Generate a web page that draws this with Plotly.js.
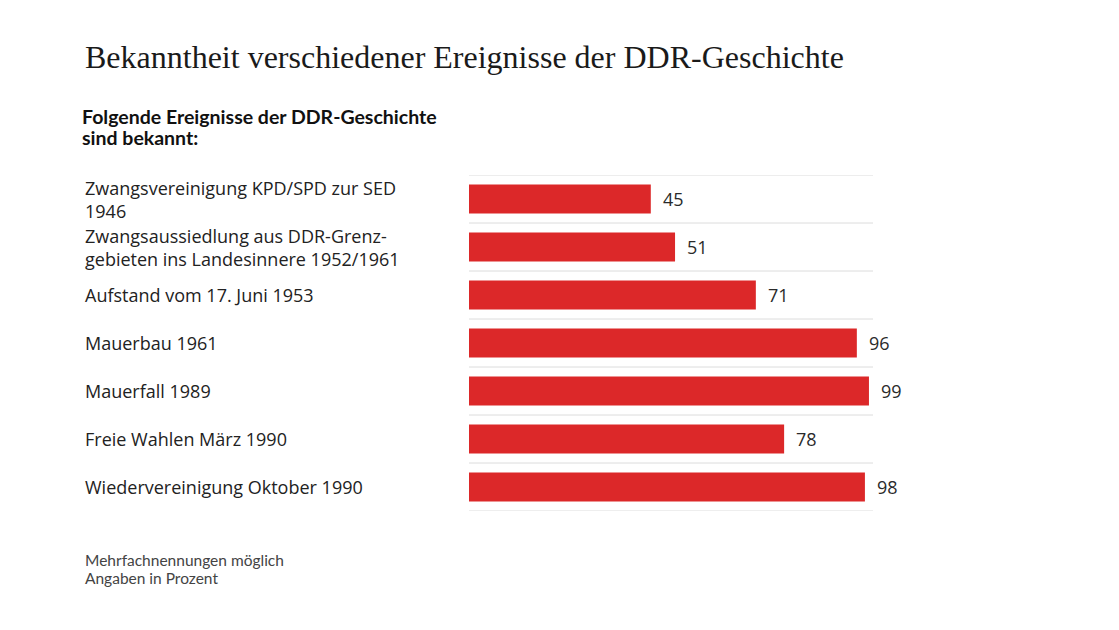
<!DOCTYPE html>
<html>
<head>
<meta charset="utf-8">
<script src="https://cdn.plot.ly/plotly-3.0.1.min.js"></script>
<style>
  html, body { margin: 0; padding: 0; background: #fff; }
  #plot { width: 1119px; height: 630px; }
</style>
</head>
<body>
<div id="plot"></div>
<script>
const events = [
    "Zwangsvereinigung KPD/SPD zur SED<br>1946",
    "Zwangsaussiedlung aus DDR-Grenz-<br>gebieten ins Landesinnere 1952/1961",
    "Aufstand vom 17. Juni 1953",
    "Mauerbau 1961",
    "Mauerfall 1989",
    "Freie Wahlen März 1990",
    "Wiedervereinigung Oktober 1990"
];
const known = [45, 51, 71, 96, 99, 78, 98];

const titleText = "Bekanntheit verschiedener Ereignisse der DDR-Geschichte";
const subtitleText = "Folgende Ereignisse der DDR-Geschichte<br>sind bekannt:";
const noteText = "Mehrfachnennungen möglich<br>Angaben in Prozent";

// plot box in pixels
const W = 1119, H = 630;
const L = 469, R = 873, T = 174.5, B = 511;
const px = x => (x - L) / (R - L);      // pixel -> paper x
const py = y => 1 - (y - T) / (B - T);  // pixel -> paper y

const bars = {
    type: "bar",
    orientation: "h",
    x: known,
    y: events,
    width: 0.6,
    marker: { color: "#dc2829" },
    hoverinfo: "x",
    showlegend: false
};

// separators between rows
const seps = [];
for (let i = 0; i <= events.length; i++) {
    seps.push({
        type: "line", xref: "x", yref: "y",
        x0: 0, x1: 100, y0: i - 0.5, y1: i - 0.5,
        line: { color: "#dcdcdc", width: 1 },
        layer: "below"
    });
}

const annotations = [];

// plotly's line height is a bit loose, so the short texts get one annotation per line
function multiline(base, text, lineGap) {
    const lines = text.split("<br>");
    lines.forEach((t, k) => {
        const shift = ((lines.length - 1) / 2 - k) * lineGap;
        annotations.push(Object.assign({}, base, {
            text: base.bold ? "<b>" + t + "</b>" : t,
            yshift: shift,
            showarrow: false,
            xanchor: "left", yanchor: "middle", align: "left"
        }));
    });
}

// category labels, left aligned
events.forEach(e => {
    annotations.push({
        xref: "paper", yref: "y", x: px(83), y: e,
        text: e, showarrow: false,
        xanchor: "left", yanchor: "middle", align: "left",
        font: { family: "Open Sans", size: 18, color: "#222" }
    });
});

// value labels
known.forEach((v, i) => {
    annotations.push({
        xref: "x", yref: "y",
        x: v, y: events[i],
        text: String(v), showarrow: false,
        xanchor: "left", yanchor: "middle", xshift: 10,
        font: { family: "Open Sans", size: 18, color: "#2a2a2a" }
    });
});

multiline({
    xref: "paper", yref: "paper", x: px(80), y: py(126.5), bold: true,
    font: { family: "Lato", size: 19.5, color: "#111" }
}, subtitleText, 21);

multiline({
    xref: "paper", yref: "paper", x: px(83), y: py(569),
    font: { family: "Lato", size: 15.5, color: "#444" }
}, noteText, 18);

Plotly.newPlot("plot", [bars], {
    width: W,
    height: H,
    margin: { l: L, r: W - R, t: T, b: H - B, pad: 0 },
    paper_bgcolor: "#fff",
    plot_bgcolor: "#fff",
    title: {
        text: titleText,
        xref: "container", yref: "container",
        x: 85 / W, xanchor: "left",
        y: 1 - 57 / H, yanchor: "middle",
        font: { family: "Liberation Serif", size: 32, color: "#1a1a1a" }
    },
    xaxis: {
        range: [0, 100],
        showgrid: false, zeroline: false,
        showticklabels: false, showline: false,
        fixedrange: true
    },
    yaxis: {
        type: "category",
        range: [events.length - 0.5, -0.5],
        showgrid: false, zeroline: false,
        showticklabels: false, showline: false,
        fixedrange: true
    },
    shapes: seps,
    annotations: annotations
}, { displayModeBar: false, staticPlot: true });
</script>
</body>
</html>
